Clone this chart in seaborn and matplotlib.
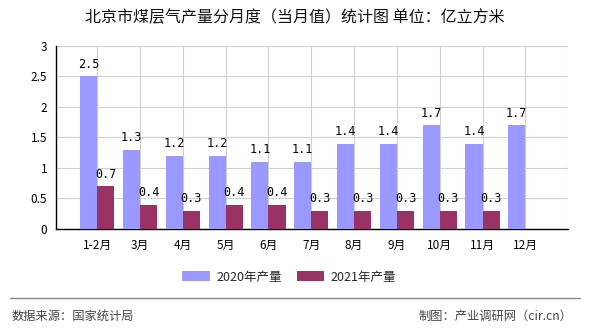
import matplotlib
matplotlib.use("Agg")
import matplotlib.pyplot as plt
import seaborn as sns
import pandas as pd
from matplotlib.patches import Patch
from matplotlib.lines import Line2D

categories = ["1-2月", "3月", "4月", "5月", "6月", "7月", "8月", "9月", "10月", "11月", "12月"]
values_2020 = [2.5, 1.3, 1.2, 1.2, 1.1, 1.1, 1.4, 1.4, 1.7, 1.4, 1.7]
values_2021 = [0.7, 0.4, 0.3, 0.4, 0.4, 0.3, 0.3, 0.3, 0.3, 0.3, None]
series_names = ["2020年产量", "2021年产量"]
colors = ["#9999FF", "#993366"]
title = "北京市煤层气产量分月度（当月值）统计图 单位：亿立方米"
source = "数据来源：国家统计局"
credit = "制图：产业调研网（cir.cn）"

rows = []
for c, a, b in zip(categories, values_2020, values_2021):
    rows.append({"month": c, "series": series_names[0], "value": a})
    rows.append({"month": c, "series": series_names[1], "value": b})
df = pd.DataFrame(rows)

sns.set_style("white")
plt.rcParams['font.family'] = ['Noto Sans CJK SC', 'DejaVu Sans']

fig = plt.figure(figsize=(5.9, 3.3), dpi=100)
ax = fig.add_axes([0.0944, 0.306, 0.963 - 0.0944, 0.861 - 0.306])

sns.barplot(data=df, x="month", y="value", hue="series", order=categories,
            hue_order=series_names, palette=colors, width=0.8, saturation=1,
            ax=ax, legend=False, zorder=3, linewidth=0, edgecolor="none")

ax.set_xlim(-0.97, 11.0)
ax.set_ylim(0, 3)
ax.set_yticks([0, 0.5, 1, 1.5, 2, 2.5, 3])
ax.set_yticklabels(["0", "0.5", "1", "1.5", "2", "2.5", "3"])
ax.set_xticks(list(range(len(categories))) + [-0.97])
ax.set_xticklabels(categories + [""])
ax.grid(True, axis="both", color="#d0d0d0", linewidth=0.8, zorder=0)
ax.set_axisbelow(True)
ax.set_xlabel("")
ax.set_ylabel("")
for s in ["top", "right"]:
    ax.spines[s].set_visible(False)
ax.axvline(11.0, color="#d0d0d0", linewidth=0.8, zorder=0)
for s in ["left", "bottom"]:
    ax.spines[s].set_color("black")
    ax.spines[s].set_linewidth(1.0)
ax.tick_params(axis="both", direction="out", length=4, width=0.8, colors="black",
               labelsize=8.5, pad=2)
ax.tick_params(axis="x", pad=3)

for container in ax.containers:
    labels = ["" if (v != v) else f"{v:.1f}" for v in container.datavalues]
    ax.bar_label(container, labels=labels, padding=4, fontsize=8.5,
                 family=['DejaVu Sans Mono'], color="black")

handles = [Patch(facecolor=colors[0], edgecolor="none"),
           Patch(facecolor=colors[1], edgecolor="none")]
fig.legend(handles, series_names, loc="center", bbox_to_anchor=(0.49, 1 - 277 / 330),
           ncol=2, frameon=False, fontsize=9, handlelength=2.2, handleheight=0.9,
           columnspacing=1.2, handletextpad=0.5)

fig.text(0.5, 1 - 18 / 330, title, ha="center", va="center", fontsize=11.5, color="#111111")
fig.add_artist(Line2D([10 / 590, 580 / 590], [1 - 298 / 330, 1 - 298 / 330],
                      color="#888888", linewidth=1.0))
fig.text(12 / 590, 1 - 316 / 330, source, ha="left", va="center", fontsize=8.8, color="#444444")
fig.text(572 / 590, 1 - 316 / 330, credit, ha="right", va="center", fontsize=8.8, color="#444444")

fig.savefig("out.png", dpi=100)
